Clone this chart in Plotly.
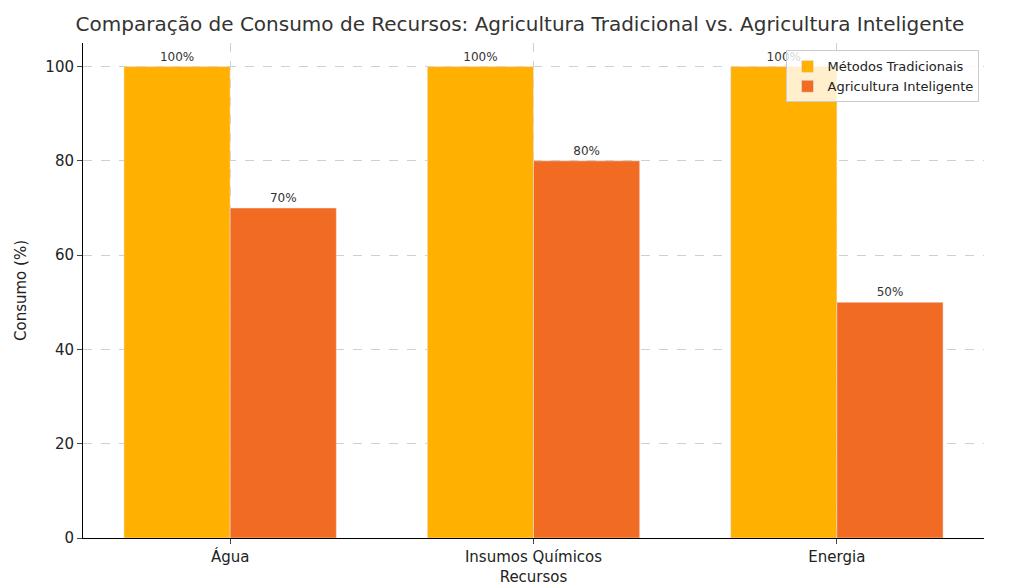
import plotly.graph_objects as go

categorias = ["Água", "Insumos Químicos", "Energia"]
tradicional = [100, 100, 100]
inteligente = [70, 80, 50]

fig = go.Figure()
fig.add_trace(go.Bar(
    x=categorias, y=tradicional, name="Métodos Tradicionais",
    marker_color="#FFB000", text=[f"{v}%" for v in tradicional],
    textposition="outside", textfont=dict(size=12, color="#333"),
    cliponaxis=False,
))
fig.add_trace(go.Bar(
    x=categorias, y=inteligente, name="Agricultura Inteligente",
    marker_color="#F26B23", text=[f"{v}%" for v in inteligente],
    textposition="outside", textfont=dict(size=12, color="#333"),
    cliponaxis=False,
))

fig.update_layout(
    title=dict(text="Comparação de Consumo de Recursos: Agricultura Tradicional vs. Agricultura Inteligente",
               x=0.5, xanchor="center", y=0.985, yanchor="top",
               font=dict(size=20, color="#333")),
    barmode="group", bargap=0.3, bargroupgap=0,
    width=1024, height=587,
    margin=dict(l=68, r=48, t=35, b=56),
    paper_bgcolor="white", plot_bgcolor="white",
    font=dict(family="DejaVu Sans", color="#222"),
    xaxis=dict(title=dict(text="Recursos", font=dict(size=15), standoff=6),
               range=[-0.485, 2.485], showline=True, linecolor="black",
               showgrid=True, gridcolor="#d0d0d0", griddash="dash",
               ticks="outside", tickfont=dict(size=15)),
    yaxis=dict(title=dict(text="Consumo (%)", font=dict(size=15)),
               range=[0, 105], dtick=20, showline=True, linecolor="black",
               showgrid=True, gridcolor="#d0d0d0", griddash="dash",
               ticks="outside", tickfont=dict(size=15), zeroline=False),
    legend=dict(x=0.995, y=0.985, xanchor="right", yanchor="top",
                bgcolor="rgba(255,255,255,0.8)", bordercolor="#ccc", borderwidth=1,
                font=dict(size=13)),
)

fig.write_html("out.html")
